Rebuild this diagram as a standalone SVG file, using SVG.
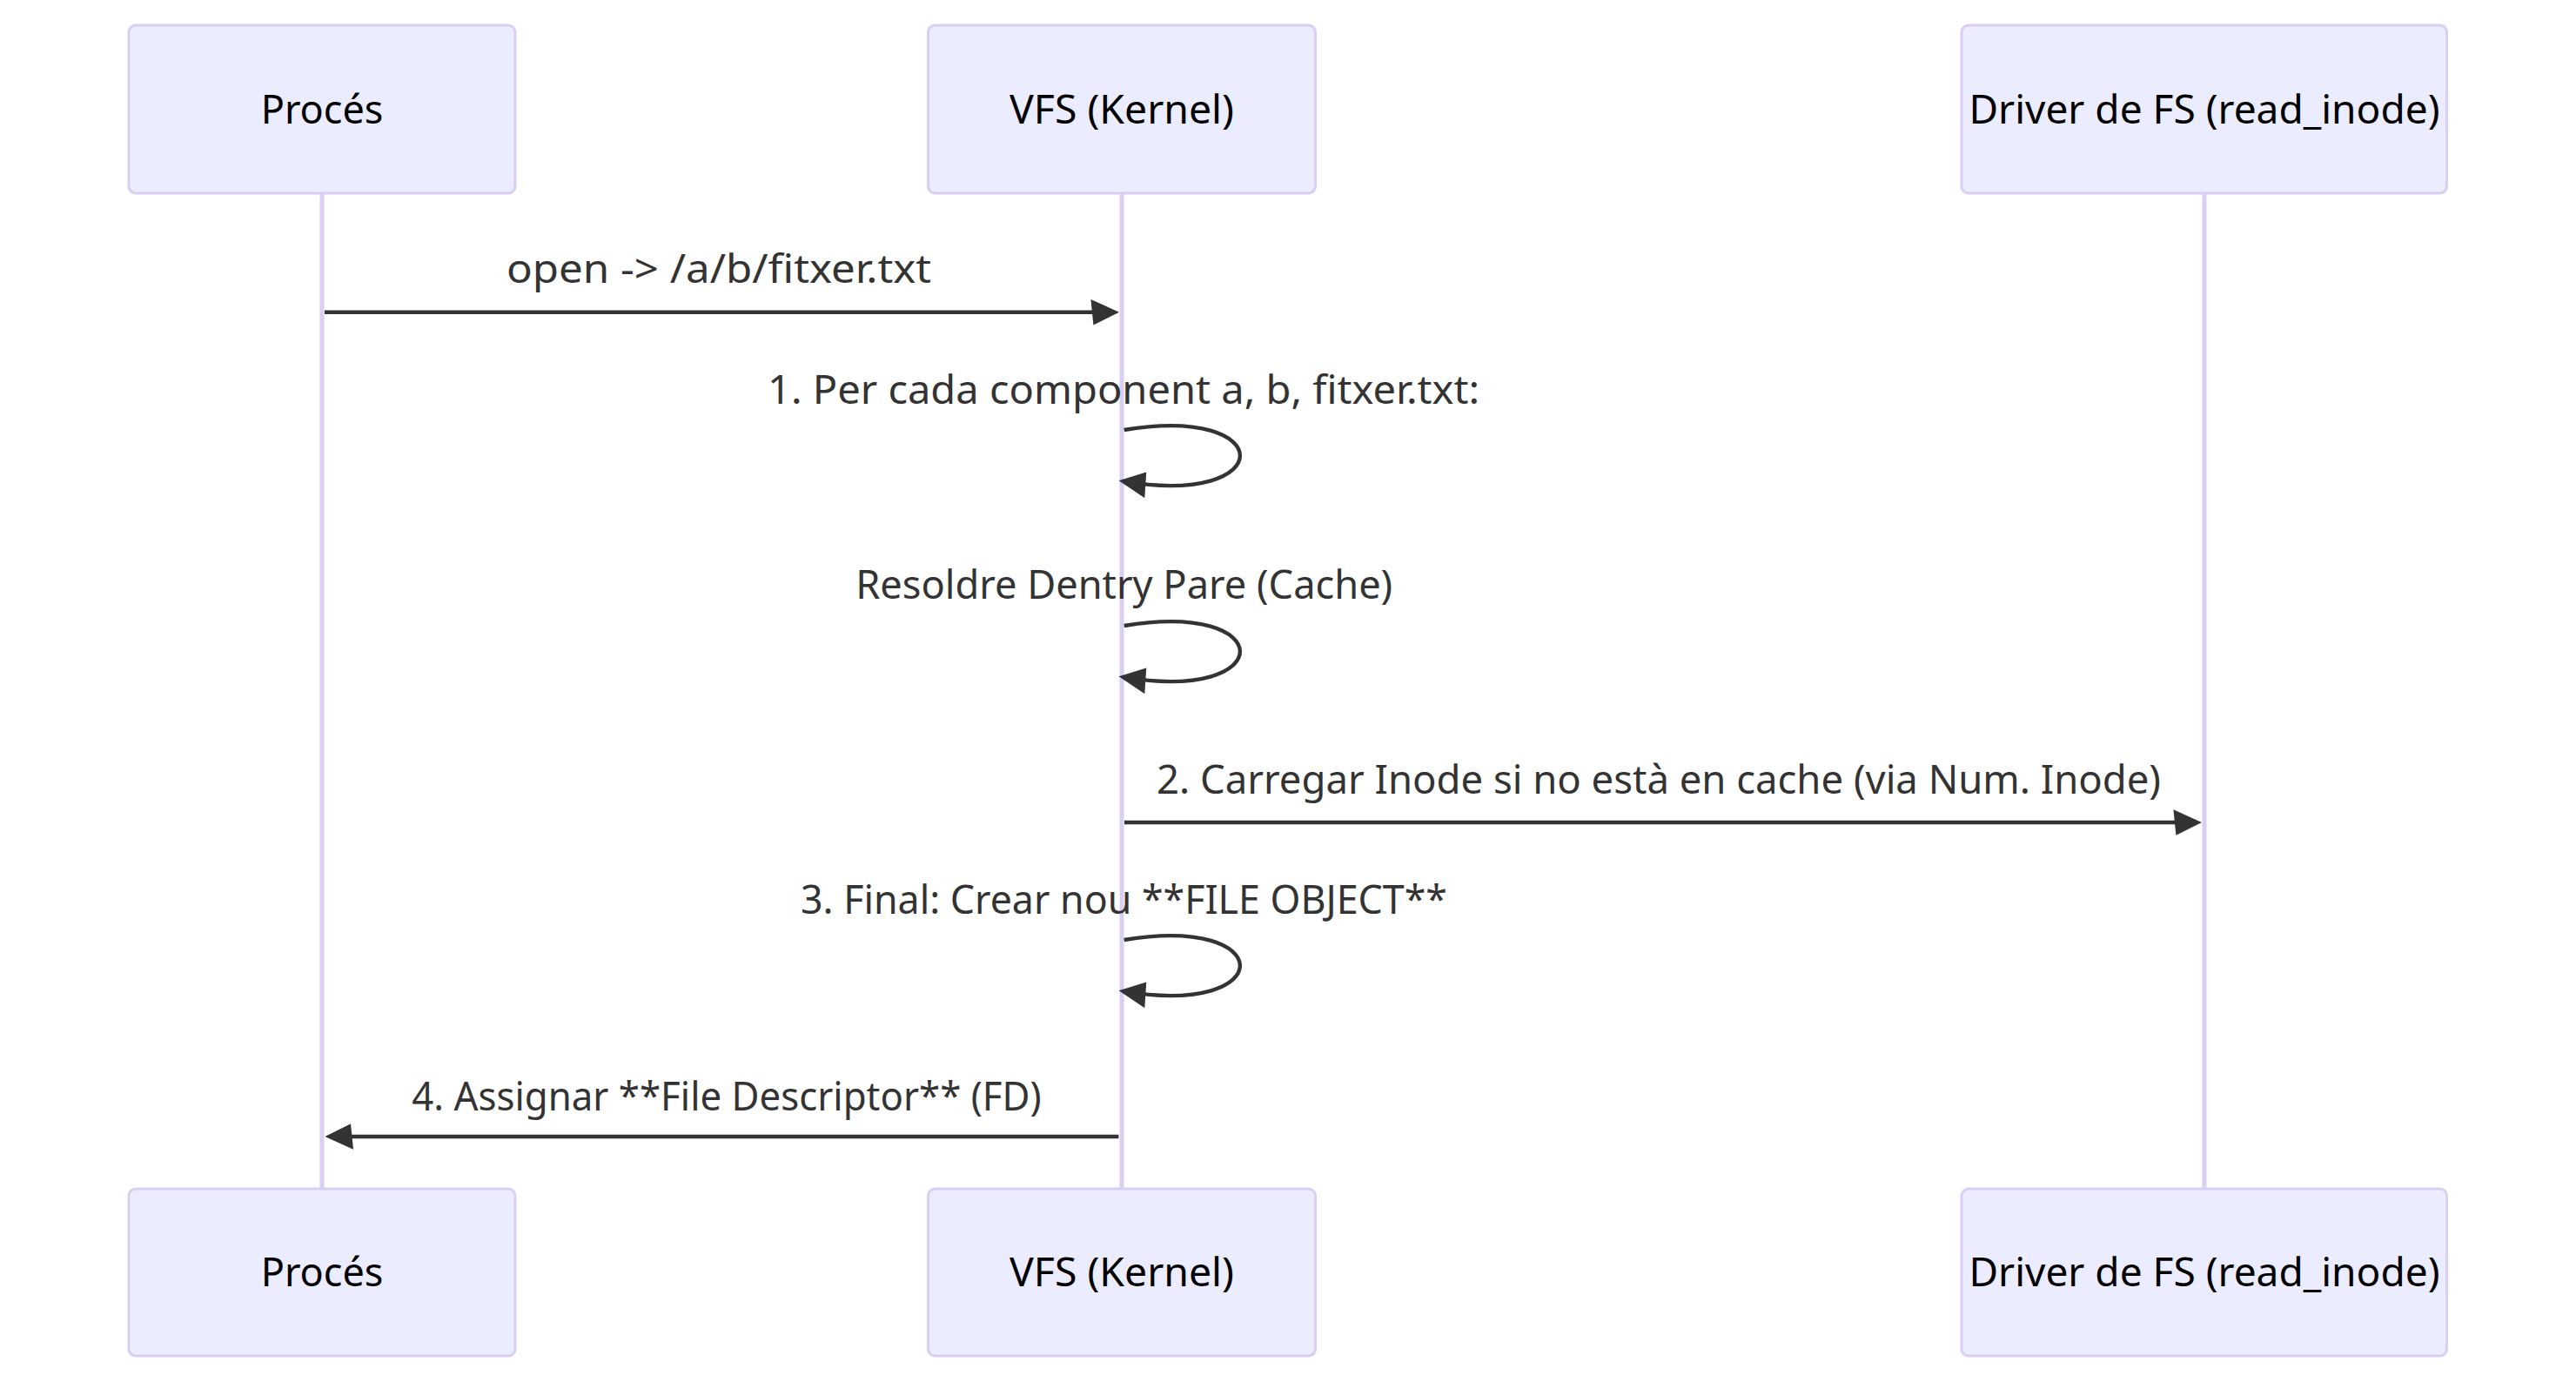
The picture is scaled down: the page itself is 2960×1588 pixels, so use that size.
<svg xmlns="http://www.w3.org/2000/svg" width="2960" height="1588" viewBox="0 0 2960 1588">
  <style>
    .actor { fill: #ECECFF; stroke: #DACEF3; stroke-width: 3; }
    .actor-text { font-family: "Noto Sans", "Liberation Sans", sans-serif; font-size: 45px; fill: #000; text-anchor: middle; }
    .lifeline { stroke: #DACEF3; stroke-width: 5; fill: none; }
    .msg { stroke: #333; stroke-width: 4.4; fill: none; marker-end: url(#arrowhead); }
    .msg-text { font-family: "Noto Sans", "Liberation Sans", sans-serif; font-size: 46px; fill: #333; text-anchor: middle; }
  </style>
  <defs>
    <marker id="arrowhead" markerUnits="userSpaceOnUse" markerWidth="36" markerHeight="36" refX="23.4" refY="14.8" orient="auto" overflow="visible">
      <path d="M -3 0 L 29.6 14.8 L 0 29.6 z" fill="#333"/>
    </marker>
  </defs>
  <rect width="2960" height="1588" fill="#fff"/>

  <g id="lifelines">
    <line class="lifeline" x1="370" y1="222" x2="370" y2="1366"/>
    <line class="lifeline" x1="1289" y1="222" x2="1289" y2="1366"/>
    <line class="lifeline" x1="2533" y1="222" x2="2533" y2="1366"/>
  </g>

  <g id="actor-proces-top">
    <rect class="actor" x="148" y="29" width="444" height="193" rx="8"/>
    <text class="actor-text" x="370" y="141.7">Procés</text>
  </g>
  <g id="actor-vfs-top">
    <rect class="actor" x="1066.5" y="29" width="445" height="193" rx="8"/>
    <text class="actor-text" x="1289" y="141.7" textLength="258" lengthAdjust="spacingAndGlyphs">VFS (Kernel)</text>
  </g>
  <g id="actor-driver-top">
    <rect class="actor" x="2254" y="29" width="557.5" height="193" rx="8"/>
    <text class="actor-text" x="2533" y="141.7" textLength="541" lengthAdjust="spacingAndGlyphs">Driver de FS (read_inode)</text>
  </g>

  <g id="actor-proces-bottom">
    <rect class="actor" x="148" y="1366" width="444" height="192" rx="8"/>
    <text class="actor-text" x="370" y="1478.3">Procés</text>
  </g>
  <g id="actor-vfs-bottom">
    <rect class="actor" x="1066.5" y="1366" width="445" height="192" rx="8"/>
    <text class="actor-text" x="1289" y="1478.3" textLength="258" lengthAdjust="spacingAndGlyphs">VFS (Kernel)</text>
  </g>
  <g id="actor-driver-bottom">
    <rect class="actor" x="2254" y="1366" width="557.5" height="192" rx="8"/>
    <text class="actor-text" x="2533" y="1478.3" textLength="541" lengthAdjust="spacingAndGlyphs">Driver de FS (read_inode)</text>
  </g>

  <g id="connectors">
    <text class="msg-text" x="826" y="324.5" textLength="488" lengthAdjust="spacingAndGlyphs">open -&gt; /a/b/fitxer.txt</text>
    <line class="msg" x1="373" y1="358.7" x2="1279.8" y2="358.7"/>

    <text class="msg-text" x="1291" y="464" textLength="818" lengthAdjust="spacingAndGlyphs">1. Per cada component a, b, fitxer.txt:</text>
    <path class="msg" d="M 1291.7 494 C 1469.3 464.4, 1469.3 582.8, 1291.7 553.2"/>

    <text class="msg-text" x="1291.7" y="688" textLength="617" lengthAdjust="spacingAndGlyphs">Resoldre Dentry Pare (Cache)</text>
    <path class="msg" d="M 1291.7 719 C 1469.3 689.4, 1469.3 807.8, 1291.7 778.2"/>

    <text class="msg-text" x="1906" y="911.5" textLength="1154" lengthAdjust="spacingAndGlyphs">2. Carregar Inode si no està en cache (via Num. Inode)</text>
    <line class="msg" x1="1292" y1="945" x2="2523.8" y2="945"/>

    <text class="msg-text" x="1291.5" y="1049.5" textLength="743" lengthAdjust="spacingAndGlyphs">3. Final: Crear nou **FILE OBJECT**</text>
    <path class="msg" d="M 1291.7 1080 C 1469.3 1050.4, 1469.3 1168.8, 1291.7 1139.2"/>

    <text class="msg-text" x="835" y="1275.5" textLength="723.5" lengthAdjust="spacingAndGlyphs">4. Assignar **File Descriptor** (FD)</text>
    <line class="msg" x1="1285.4" y1="1306" x2="379.6" y2="1306"/>
  </g>
</svg>
